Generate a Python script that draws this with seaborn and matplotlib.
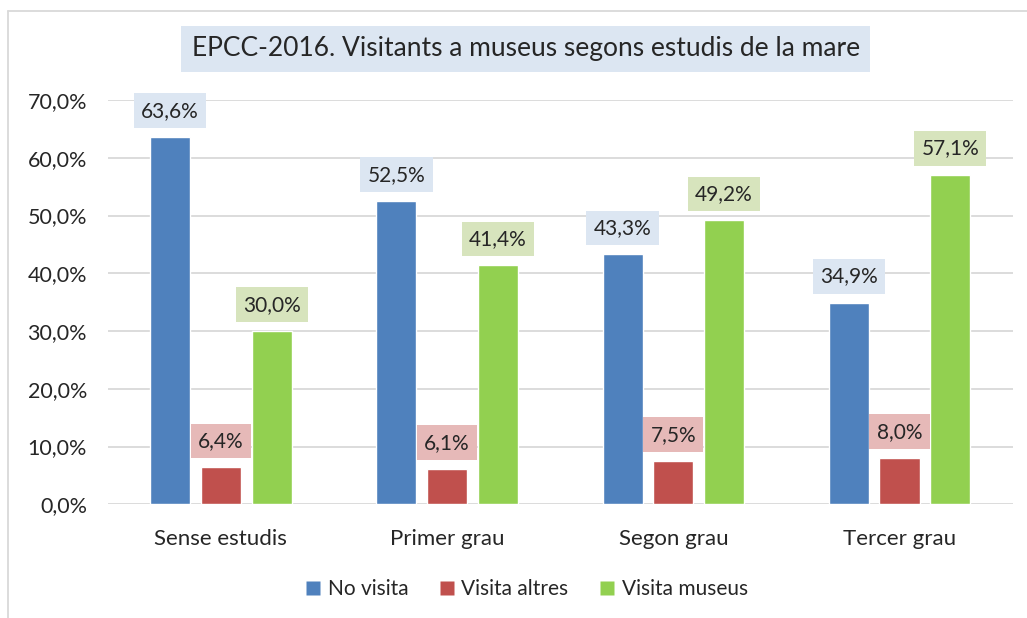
import pandas as pd
import seaborn as sns
import matplotlib.pyplot as plt
from matplotlib.lines import Line2D

# Data
categories = ['Sense estudis', 'Primer grau', 'Segon grau', 'Tercer grau']
series = ['No visita', 'Visita altres', 'Visita museus']
no_visita = [63.6, 52.5, 43.3, 34.9]
visita_altres = [6.4, 6.1, 7.5, 8.0]
visita_museus = [30.0, 41.4, 49.2, 57.1]

bar_colors = ['#4f81bd', '#c0504d', '#92d050']
label_bg = ['#dce6f2', '#e6b9b8', '#d7e4bd']

df = pd.DataFrame({
    'Estudis': categories * 3,
    'Serie': [s for s in series for _ in categories],
    'Valor': no_visita + visita_altres + visita_museus,
})

sns.set_style('white')
plt.rcParams['font.family'] = ['Lato', 'DejaVu Sans']

fig = plt.figure(figsize=(10.27, 6.18), dpi=100)
ax = fig.add_axes([0.105, 0.184, 0.881, 0.654])

sns.barplot(data=df, x='Estudis', y='Valor', hue='Serie', hue_order=series,
            order=categories, palette=bar_colors, width=0.673, gap=0.21,
            saturation=1, ax=ax, legend=False)

ax.set_ylim(0, 70)
ax.set_xlim(-0.5, 3.5)
ax.set_yticks(range(0, 71, 10))
ax.set_yticklabels([f'{v},0%' for v in range(0, 71, 10)])
ax.yaxis.grid(True, color='#d9d9d9', linewidth=1.3)
ax.set_axisbelow(True)
for s in ax.spines.values():
    s.set_visible(False)
ax.tick_params(axis='y', labelsize=15.5, length=0, pad=15)
ax.tick_params(axis='x', labelsize=16, length=0, pad=18)
ax.set_xlabel('')
ax.set_ylabel('')

# Data labels in coloured boxes
for container, bg in zip(ax.containers, label_bg):
    for bar in container:
        h = bar.get_height()
        ax.annotate(f'{h:.1f}%'.replace('.', ','),
                    (bar.get_x() + bar.get_width() / 2, h),
                    xytext=(0, 19), textcoords='offset points',
                    ha='center', va='center', fontsize=15,
                    bbox=dict(boxstyle='square,pad=0.35', fc=bg, ec='none'))

fig.text(0.512, 0.921, 'EPCC-2016. Visitants a museus segons estudis de la mare',
         ha='center', va='center', fontsize=19,
         bbox=dict(boxstyle='square,pad=0.4', fc='#dce6f2', ec='none'))

handles = [Line2D([], [], marker='s', linestyle='none', markersize=10,
                  markerfacecolor=c, markeredgecolor='none') for c in bar_colors]
fig.legend(handles, series, loc='center', bbox_to_anchor=(0.513, 0.047),
           ncol=3, frameon=False, fontsize=15, handlelength=0.7,
           handletextpad=0.35, columnspacing=1.5)

# chart border (left and top edges visible)
fig.add_artist(Line2D([0.008, 0.008], [0.0, 0.982], color='#d9d9d9', lw=1.3))
fig.add_artist(Line2D([0.008, 1.0], [0.982, 0.982], color='#d9d9d9', lw=1.3))

fig.savefig('out.png', dpi=100, facecolor='white')
